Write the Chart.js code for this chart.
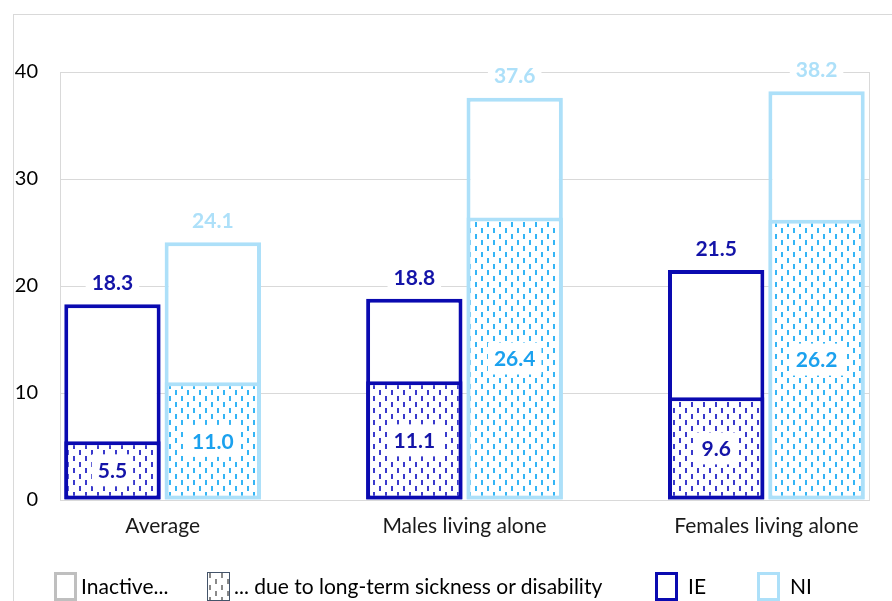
<!DOCTYPE html>
<html>
<head>
<meta charset="utf-8">
<script src="https://cdn.jsdelivr.net/npm/chart.js@4.4.1/dist/chart.umd.min.js"></script>
<style>
  html, body { margin: 0; padding: 0; background: #fff; }
  #wrap { position: relative; width: 892px; height: 601px; overflow: hidden; font-family: Lato, sans-serif; }
  #frame { position: absolute; left: 13px; top: 14px; width: 900px; height: 600px; border: 1px solid #d9d9d9; }
  #chart { position: absolute; left: 0; top: 0; }
  .leg { position: absolute; top: 572px; display: flex; align-items: flex-start; font-size: 21px; color: #000; }
  .leg .box { width: 23px; height: 29px; box-sizing: border-box; background: #fff; margin-right: 4px; }
  .leg span { line-height: 28px; }
</style>
</head>
<body>
<div id="wrap">
  <div id="frame"></div>
  <canvas id="chart" width="892" height="601"></canvas>
  <div class="leg" style="left:54px"><div class="box" style="border:3px solid #bfbfbf"></div><span>Inactive...</span></div>
  <div class="leg" style="left:207px"><div class="box" id="patBox" style="border:1px solid #44546a"></div><span>... due to long-term sickness or disability</span></div>
  <div class="leg" style="left:655px"><div class="box" style="border:3px solid #0a0ab0"></div><span style="margin-left:6px">IE</span></div>
  <div class="leg" style="left:757px"><div class="box" style="border:3px solid #ade0f9"></div><span style="margin-left:6px">NI</span></div>
</div>
<script>
// --- дані ---
const categories = ['Average', 'Males living alone', 'Females living alone'];
const ieInactive = [18.3, 18.8, 21.5];
const ieSickness = [5.5, 11.1, 9.6];
const niInactive = [24.1, 37.6, 38.2];
const niSickness = [11.0, 26.4, 26.2];
const yTicks = [0, 10, 20, 30, 40];

const ieColor = '#0a0ab0';
const niColor = '#ade0f9';
const ieText = '#1414a8';
const niInnerText = '#1ba1ee';

// штрихова заливка (короткі вертикальні риски)
function makePatternCanvas(color) {
    const c = document.createElement('canvas');
    c.width = 12; c.height = 12;
    const p = c.getContext('2d');
    p.fillStyle = '#fff';
    p.fillRect(0, 0, 12, 12);
    p.fillStyle = color;
    p.fillRect(1, 0, 2, 5);
    p.fillRect(7, 6, 2, 5);
    return c;
}
const ctx = document.getElementById('chart').getContext('2d');
const iePattern = ctx.createPattern(makePatternCanvas('#3a3acc'), 'repeat');
const niPattern = ctx.createPattern(makePatternCanvas('#35b5f5'), 'repeat');
document.getElementById('patBox').style.background =
    'url(' + makePatternCanvas('#8a8a8a').toDataURL() + ')';

const toPoints = arr => arr.map((v, i) => ({ x: i, y: v }));

// підписи значень
const labelPlugin = {
    id: 'barLabels',
    afterDatasetsDraw(chart) {
        const c = chart.ctx;
        c.save();
        c.textAlign = 'center';
        c.textBaseline = 'middle';
        c.font = 'bold 21px Lato';
        const draw = (dsIndex, values, color, inner) => {
            chart.getDatasetMeta(dsIndex).data.forEach((bar, i) => {
                const txt = values[i].toFixed(1);
                const cy = inner ? (bar.y + bar.base) / 2 : bar.y - 22;
                const w = c.measureText(txt).width;
                const h = inner ? 32 : 22;
                c.fillStyle = '#fff';
                c.fillRect(bar.x - w / 2 - 6, cy - h / 2, w + 12, h);
                c.fillStyle = color;
                c.fillText(txt, bar.x, cy + 1);
            });
        };
        draw(2, ieInactive, ieText, false);
        draw(3, niInactive, niColor, false);
        draw(0, ieSickness, ieText, true);
        draw(1, niSickness, niInnerText, true);
        c.restore();
    }
};

// права межа області графіка
const areaFrame = {
    id: 'areaFrame',
    beforeDatasetsDraw(chart) {
        const a = chart.chartArea;
        const c = chart.ctx;
        c.save();
        c.strokeStyle = '#d9d9d9';
        c.lineWidth = 1;
        c.beginPath();
        c.moveTo(a.right + 0.5, a.top);
        c.lineTo(a.right + 0.5, a.bottom);
        c.stroke();
        c.restore();
    }
};

new Chart(ctx, {
    type: 'bar',
    data: {
        datasets: [
            { label: 'IE sickness', data: toPoints(ieSickness), stack: 'IE', backgroundColor: iePattern, borderColor: ieColor, borderWidth: 4, borderSkipped: false },
            { label: 'NI sickness', data: toPoints(niSickness), stack: 'NI', backgroundColor: niPattern, borderColor: niColor, borderWidth: 4, borderSkipped: false },
            { label: 'IE inactive', data: toPoints(ieInactive), stack: 'IE', backgroundColor: '#fff', borderColor: ieColor, borderWidth: 4, borderSkipped: false },
            { label: 'NI inactive', data: toPoints(niInactive), stack: 'NI', backgroundColor: '#fff', borderColor: niColor, borderWidth: 4, borderSkipped: false }
        ]
    },
    options: {
        responsive: false,
        animation: false,
        categoryPercentage: 0.665,
        barPercentage: 0.96,
        layout: { padding: { top: 72, right: 23, bottom: 0, left: 0 } },
        plugins: { legend: { display: false }, tooltip: { enabled: false } },
        scales: {
            x: {
                type: 'linear',
                offset: false,
                min: -0.34,
                max: 2.34,
                afterBuildTicks: s => { s.ticks = categories.map((c, i) => ({ value: i })); },
                afterFit: s => { s.height = 101; },
                grid: { display: false },
                border: { display: true, color: '#d9d9d9' },
                ticks: {
                    callback: v => categories[v],
                    autoSkip: false,
                    maxRotation: 0,
                    padding: 6,
                    color: '#1a1a1a',
                    font: { family: 'Lato', size: 21 }
                }
            },
            y: {
                min: 0,
                max: 40,
                stacked: false,
                afterBuildTicks: s => { s.ticks = yTicks.map(v => ({ value: v })); },
                afterFit: s => { s.width = 60; },
                grid: { color: '#d9d9d9', drawTicks: false },
                border: { display: true, color: '#d9d9d9' },
                ticks: {
                    padding: 22,
                    color: '#000',
                    font: { family: 'Lato', size: 20 }
                }
            }
        }
    },
    plugins: [areaFrame, labelPlugin]
});
</script>
</body>
</html>
